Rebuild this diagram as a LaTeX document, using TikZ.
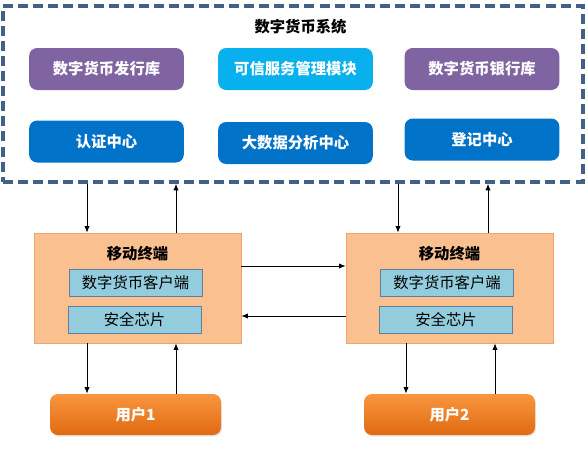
\documentclass[tikz,border=0pt]{standalone}
\usepackage{fontspec}
\setmainfont{Noto Sans CJK SC}
\usetikzlibrary{arrows.meta,positioning,calc,shadows}
\tikzset{>=latex}
\definecolor{purplecol}{RGB}{128,100,162}
\definecolor{cyancol}{RGB}{8,176,238}
\definecolor{bluecol}{RGB}{0,114,200}
\definecolor{framecol}{RGB}{66,96,136}
\definecolor{termfill}{RGB}{250,192,144}
\definecolor{termdraw}{RGB}{238,164,108}
\definecolor{chipfill}{RGB}{147,205,221}
\definecolor{chipdraw}{RGB}{96,126,158}
\definecolor{usertop}{RGB}{249,150,62}
\definecolor{userbot}{RGB}{224,106,18}
\tikzset{
  sysframe/.style={draw=framecol,line width=2.5pt,dash pattern=on 7.5pt off 3.8pt,minimum width=435pt,minimum height=132pt,inner sep=0pt},
  modbox/.style={rounded corners=6pt,minimum width=116pt,minimum height=31.5pt,inner sep=0pt,text=white,font=\fontsize{11.5}{13}\selectfont\bfseries},
  termbox/.style={draw=termdraw,fill=termfill,minimum width=155.25pt,minimum height=82.5pt,inner sep=0pt},
  partbox/.style={draw=chipdraw,fill=chipfill,minimum width=99.75pt,minimum height=20.25pt,inner sep=0pt,font=\fontsize{11.5}{13}\selectfont},
  userbox/.style={rounded corners=6pt,top color=usertop,bottom color=userbot,minimum width=128.25pt,minimum height=30.75pt,inner sep=0pt,text=white,font=\fontsize{11.5}{13}\selectfont\bfseries,drop shadow={opacity=0.2,shadow xshift=0.8pt,shadow yshift=-1.2pt}},
  headtxt/.style={font=\fontsize{11.5}{13}\selectfont\bfseries,inner sep=0pt},
  flow/.style={->,line width=0.75pt,>={Latex[length=5pt,width=4pt]}}
}
\begin{document}
\begin{tikzpicture}[x=0.75pt,y=-0.75pt]
\useasboundingbox (0,0) rectangle (588,457);

% system
\node[sysframe] (sys) at (293,94) {};
\node[headtxt] (systitle) at (300.5,27) {数字货币系统};
\node[modbox,fill=purplecol] (issue) at (106.5,69) {数字货币发行库};
\node[modbox,fill=cyancol] (trust) at (295.5,69) {可信服务管理模块};
\node[modbox,fill=purplecol] (bank) at (482,69) {数字货币银行库};
\node[modbox,fill=bluecol] (auth) at (106.5,141.5) {认证中心};
\node[modbox,fill=bluecol] (data) at (295.5,143) {大数据分析中心};
\node[modbox,fill=bluecol] (reg) at (482,139.5) {登记中心};

% terminals
\node[termbox] (t1) at (137.5,288) {};
\node[termbox] (t2) at (449.5,288) {};
\node[headtxt] (t1title) at (137.5,254) {移动终端};
\node[headtxt] (t2title) at (449.5,254) {移动终端};
\node[partbox] (client1) at (135.5,282.5) {数字货币客户端};
\node[partbox] (chip1) at (134.5,319.5) {安全芯片};
\node[partbox] (client2) at (447,282.5) {数字货币客户端};
\node[partbox] (chip2) at (446,319.5) {安全芯片};

% users
\node[userbox] (u1) at (135.5,414.5) {用户1};
\node[userbox] (u2) at (449.5,414.5) {用户2};

% arrow positions
\coordinate (x1) at (87,0);
\coordinate (x2) at (176,0);
\coordinate (x3) at (398,0);
\coordinate (x4) at (488,0);
\coordinate (x5) at (406,0);
\coordinate (x6) at (495,0);
\coordinate (y1) at (0,266);
\coordinate (y2) at (0,316);

\draw[flow] (sys.south -| x1) -- (t1.north -| x1);
\draw[flow] (t1.north -| x2) -- (sys.south -| x2);
\draw[flow] (sys.south -| x3) -- (t2.north -| x3);
\draw[flow] (t2.north -| x4) -- (sys.south -| x4);

\draw[flow] (t1.east |- y1) -- (t2.west |- y1);
\draw[flow] (t2.west |- y2) -- (t1.east |- y2);

\draw[flow] (t1.south -| x1) -- (u1.north -| x1);
\draw[flow] (u1.north -| x2) -- (t1.south -| x2);
\draw[flow] (t2.south -| x5) -- (u2.north -| x5);
\draw[flow] (u2.north -| x6) -- (t2.south -| x6);
\end{tikzpicture}
\end{document}
